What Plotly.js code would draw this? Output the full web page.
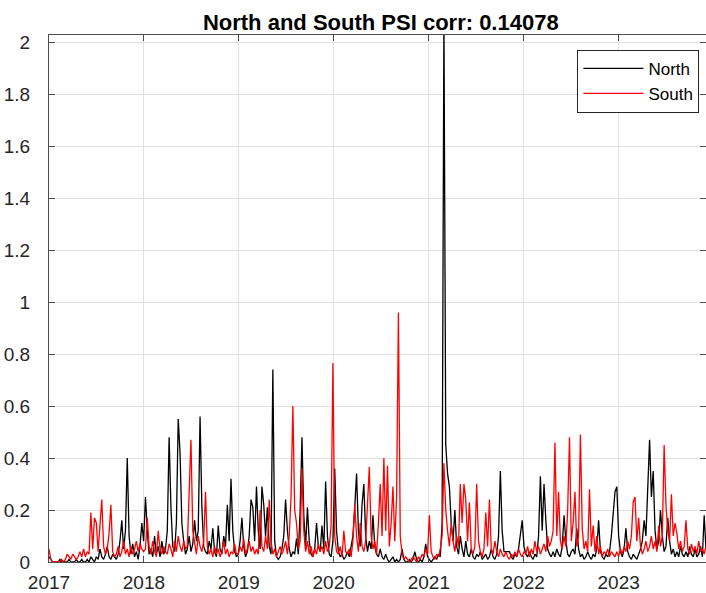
<!DOCTYPE html>
<html>
<head>
<meta charset="utf-8">
<script src="https://cdn.plot.ly/plotly-3.0.1.min.js"></script>
<style>
  html, body { margin: 0; padding: 0; background: #fff; }
  #chart { width: 706px; height: 593px; }
</style>
</head>
<body>
<div id="chart"></div>
<script>
// Weekly PSI series, first sample on 2017-01-01, one value per week
const startDate = '2017-01-01';
const stepDays = 7;

const north2017 = [0.02,0.01,0.00,0.00,0.00,0.00,0.01,0.00,0.00,0.00,
  0.00,0.01,0.00,0.00,0.00,0.01,0.00,0.00,0.01,0.00,
  0.00,0.01,0.00,0.02,0.01,0.00,0.02,0.01,0.05,0.02,
  0.01,0.03,0.06,0.02,0.01,0.03,0.02,0.01,0.03,0.08,
  0.16,0.05,0.12,0.40,0.10,0.03,0.07,0.02,0.04,0.01,
  0.06,0.15];
const north2018 = [0.08,0.25,0.12,0.03,0.05,0.02,0.10,0.03,0.06,0.02,
  0.08,0.03,0.05,0.12,0.48,0.21,0.06,0.04,0.15,0.55,
  0.42,0.15,0.08,0.03,0.05,0.10,0.04,0.07,0.16,0.08,
  0.12,0.56,0.21,0.06,0.04,0.03,0.08,0.05,0.13,0.04,
  0.02,0.14,0.05,0.03,0.10,0.06,0.22,0.08,0.32,0.12,
  0.04,0.02];
const north2019 = [0.03,0.08,0.17,0.06,0.02,0.04,0.10,0.24,0.21,0.08,
  0.29,0.12,0.05,0.29,0.22,0.10,0.21,0.06,0.03,0.74,
  0.08,0.02,0.01,0.02,0.05,0.10,0.24,0.12,0.05,0.02,
  0.04,0.03,0.09,0.03,0.20,0.48,0.18,0.06,0.21,0.08,
  0.03,0.02,0.05,0.15,0.06,0.04,0.14,0.05,0.31,0.10,
  0.03,0.02];
const north2020 = [0.08,0.36,0.12,0.04,0.02,0.03,0.01,0.02,0.04,0.02,
  0.06,0.10,0.21,0.34,0.12,0.06,0.22,0.30,0.10,0.04,
  0.08,0.05,0.18,0.06,0.03,0.02,0.05,0.02,0.01,0.03,
  0.01,0.00,0.01,0.02,0.00,0.01,0.00,0.01,0.05,0.01,
  0.00,0.00,0.01,0.00,0.01,0.04,0.01,0.00,0.01,0.00,
  0.02,0.07];
const north2021 = [0.02,0.01,0.00,0.01,0.02,0.01,0.03,0.02,0.15,2.10,
  0.45,0.34,0.29,0.15,0.08,0.20,0.06,0.03,0.10,0.05,
  0.02,0.08,0.03,0.02,0.05,0.02,0.01,0.03,0.02,0.04,
  0.01,0.02,0.03,0.01,0.02,0.05,0.02,0.01,0.03,0.10,
  0.35,0.12,0.04,0.04,0.04,0.04,0.02,0.01,0.03,0.02,
  0.05,0.10];
const north2022 = [0.16,0.06,0.03,0.02,0.04,0.02,0.01,0.03,0.02,0.10,
  0.33,0.12,0.30,0.16,0.05,0.03,0.02,0.04,0.02,0.05,
  0.03,0.02,0.06,0.18,0.08,0.03,0.02,0.04,0.05,0.03,
  0.13,0.05,0.02,0.03,0.01,0.02,0.04,0.02,0.01,0.03,
  0.02,0.05,0.16,0.04,0.02,0.01,0.03,0.02,0.04,0.10,
  0.19,0.27];
const north2023 = [0.29,0.10,0.04,0.02,0.05,0.13,0.04,0.02,0.01,0.03,
  0.02,0.01,0.03,0.05,0.08,0.16,0.10,0.30,0.47,0.25,
  0.35,0.12,0.05,0.08,0.20,0.10,0.04,0.06,0.17,0.08,
  0.03,0.05,0.02,0.04,0.02,0.06,0.03,0.02,0.04,0.02,
  0.06,0.03,0.02,0.05,0.02,0.03,0.06,0.02,0.18,0.05];

const south2017 = [0.05,0.01,0.00,0.00,0.00,0.00,0.00,0.01,0.00,0.01,
  0.03,0.02,0.01,0.03,0.02,0.01,0.02,0.04,0.02,0.05,
  0.02,0.04,0.03,0.19,0.05,0.17,0.15,0.04,0.14,0.24,
  0.06,0.03,0.05,0.11,0.22,0.04,0.02,0.03,0.06,0.02,
  0.04,0.08,0.03,0.05,0.02,0.06,0.03,0.05,0.08,0.04,
  0.07,0.05];
const south2018 = [0.04,0.05,0.17,0.06,0.03,0.08,0.04,0.02,0.12,0.05,
  0.03,0.06,0.04,0.03,0.07,0.05,0.02,0.08,0.04,0.10,
  0.06,0.04,0.08,0.05,0.06,0.31,0.47,0.12,0.08,0.03,
  0.10,0.06,0.04,0.08,0.27,0.06,0.03,0.05,0.02,0.06,
  0.03,0.05,0.02,0.04,0.08,0.03,0.05,0.02,0.04,0.03,
  0.07,0.03];
const south2019 = [0.03,0.06,0.04,0.09,0.03,0.05,0.08,0.04,0.06,0.03,
  0.05,0.03,0.20,0.06,0.04,0.10,0.05,0.24,0.08,0.03,
  0.05,0.02,0.04,0.06,0.03,0.05,0.08,0.03,0.10,0.25,
  0.60,0.20,0.15,0.05,0.08,0.36,0.12,0.04,0.08,0.03,
  0.06,0.02,0.05,0.03,0.07,0.04,0.06,0.03,0.08,0.04,
  0.06,0.14];
const south2020 = [0.765,0.10,0.04,0.03,0.06,0.02,0.12,0.04,0.03,0.05,
  0.02,0.08,0.22,0.10,0.04,0.15,0.06,0.04,0.08,0.20,
  0.365,0.10,0.05,0.08,0.03,0.15,0.30,0.10,0.40,0.12,
  0.37,0.06,0.15,0.29,0.08,0.25,0.96,0.10,0.03,0.01,
  0.02,0.01,0.00,0.01,0.02,0.01,0.00,0.02,0.01,0.03,
  0.02,0.05];
const south2021 = [0.03,0.18,0.04,0.02,0.01,0.03,0.02,0.05,0.10,0.38,
  0.20,0.12,0.06,0.15,0.08,0.04,0.10,0.06,0.30,0.15,
  0.30,0.24,0.08,0.23,0.05,0.03,0.06,0.30,0.08,0.04,
  0.02,0.05,0.19,0.06,0.24,0.05,0.03,0.08,0.04,0.02,
  0.05,0.03,0.02,0.04,0.02,0.01,0.03,0.02,0.04,0.02,
  0.05,0.03];
const south2022 = [0.02,0.04,0.03,0.06,0.02,0.05,0.03,0.08,0.04,0.06,
  0.03,0.05,0.07,0.04,0.10,0.06,0.08,0.12,0.46,0.10,
  0.27,0.08,0.05,0.10,0.06,0.20,0.48,0.08,0.15,0.27,
  0.06,0.10,0.49,0.13,0.05,0.08,0.04,0.28,0.06,0.14,
  0.04,0.10,0.03,0.06,0.02,0.04,0.03,0.05,0.02,0.04,
  0.03,0.02];
const south2023 = [0.04,0.02,0.05,0.03,0.06,0.04,0.08,0.05,0.10,0.23,
  0.25,0.08,0.17,0.06,0.03,0.05,0.08,0.04,0.06,0.10,
  0.05,0.08,0.04,0.14,0.06,0.10,0.45,0.22,0.12,0.08,
  0.26,0.10,0.15,0.11,0.05,0.08,0.04,0.06,0.16,0.05,
  0.03,0.07,0.04,0.06,0.03,0.08,0.04,0.05,0.03,0.06];

const yearTicks = ['2017-01-01','2018-01-01','2019-01-01','2020-01-01','2021-01-01','2022-01-01','2023-01-01'];
const yearLabels = ['2017','2018','2019','2020','2021','2022','2023'];
const yTicks = [0,0.2,0.4,0.6,0.8,1,1.2,1.4,1.6,1.8,2];
const yLabels = ['0','0.2','0.4','0.6','0.8','1','1.2','1.4','1.6','1.8','2'];
const corrText = '0.14078';

const north = [].concat(north2017, north2018, north2019, north2020, north2021, north2022, north2023);
const south = [].concat(south2017, south2018, south2019, south2020, south2021, south2022, south2023);

function weeklyDates(n) {
  const t0 = Date.parse(startDate + 'T00:00:00Z');
  const out = [];
  for (let i = 0; i < n; i++) {
    out.push(new Date(t0 + i * stepDays * 86400000).toISOString().slice(0, 10));
  }
  return out;
}

const traces = [
  { x: weeklyDates(north.length), y: north, type: 'scatter', mode: 'lines', name: 'North',
    line: { color: '#000000', width: 1.3 } },
  { x: weeklyDates(south.length), y: south, type: 'scatter', mode: 'lines', name: 'South',
    line: { color: '#ff0000', width: 1.3 } }
];

const fontFamily = 'Liberation Sans, Arial, Helvetica, sans-serif';

const layout = {
  width: 706, height: 593,
  margin: { l: 49, r: 0, t: 35, b: 31 },
  paper_bgcolor: '#ffffff', plot_bgcolor: '#ffffff',
  font: { family: fontFamily, color: '#262626' },
  showlegend: true,
  title: {
    text: '<b>North and South PSI corr: ' + corrText + '</b>',
    font: { size: 22, color: '#000000', family: fontFamily },
    x: 0.505, xref: 'paper', xanchor: 'center',
    y: 1, yref: 'paper', yanchor: 'bottom', pad: { b: 5 }
  },
  xaxis: {
    type: 'date',
    range: ['2017-01-01', '2023-12-03'],
    tickvals: yearTicks, ticktext: yearLabels,
    ticks: 'inside', ticklen: 6, tickcolor: '#4d4d4d',
    showline: true, linecolor: '#4d4d4d', linewidth: 1, mirror: 'ticks',
    showgrid: true, gridcolor: '#e2e2e2', gridwidth: 1,
    zeroline: false,
    tickfont: { size: 19, color: '#262626' },
    ticklabelstandoff: 3
  },
  yaxis: {
    range: [0, 2.027],
    tickvals: yTicks, ticktext: yLabels,
    ticks: 'inside', ticklen: 6, tickcolor: '#4d4d4d',
    showline: true, linecolor: '#4d4d4d', linewidth: 1, mirror: 'ticks',
    showgrid: true, gridcolor: '#e2e2e2', gridwidth: 1,
    zeroline: false,
    tickfont: { size: 19, color: '#262626' },
    ticklabelstandoff: 14
  },
  legend: {
    x: 0.99, xanchor: 'right', y: 0.972, yanchor: 'top',
    bgcolor: '#ffffff', bordercolor: '#262626', borderwidth: 1,
    font: { size: 17, color: '#000000', family: fontFamily },
    itemwidth: 60, tracegroupgap: 0
  }
};

Plotly.newPlot('chart', traces, layout, { staticPlot: true, displayModeBar: false });
</script>
</body>
</html>
